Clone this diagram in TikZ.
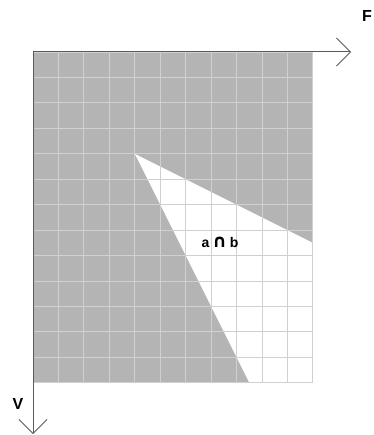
\documentclass[tikz,border=0pt]{standalone}
\usepackage{fontspec}
\setmainfont{Liberation Sans}
\newfontfamily\symfont{DejaVu Sans}
\usetikzlibrary{arrows.meta}
\definecolor{shade}{HTML}{B4B4B4}
\definecolor{gridc}{HTML}{D0D0D0}
\definecolor{axisc}{HTML}{5A5A5A}
\tikzset{
  shadefill/.style={fill=shade},
  gridline/.style={draw=gridc, line width=1pt},
  axisline/.style={draw=axisc, line width=1pt, -{Straight Barb[length=14pt,width=28pt,line width=0.8pt]}},
  axislabel/.style={font=\bfseries\fontsize{16}{18}\selectfont, inner sep=0pt},
  regionlabel/.style={font=\bfseries\fontsize{14}{16}\selectfont, inner sep=0pt}
}
\begin{document}
\begin{tikzpicture}[x=1pt,y=-1pt]
\useasboundingbox (0,0) rectangle (373,435);
\begin{scope}[shift={(33,52)}, x=25.45pt, y=-25.45pt]
  \fill[shadefill] (0,0) rectangle (11,13);
  \fill[white] (4,4) -- (11,7.5) -- (11,13) -- (8.5,13) -- cycle;
  \draw[gridline, xstep=25.45pt, ystep=25.45pt] (0,0) grid (11.01,13.01);
  \coordinate (O) at (0,0);
\end{scope}
\coordinate (Ftip) at (351,52);
\coordinate (Vtip) at (33,434);
\draw[axisline] (O) -- (Ftip);
\draw[axisline] (O) -- (Vtip);
\node[axislabel] (F) at (367,16) {F};
\node[axislabel] (V) at (18,404) {V};
\node[regionlabel, anchor=base] (ab) at (220,247) {a\hspace{3pt}{\symfont\fontsize{18}{18}\selectfont ∩}\hspace{3pt}b};
\end{tikzpicture}
\end{document}
